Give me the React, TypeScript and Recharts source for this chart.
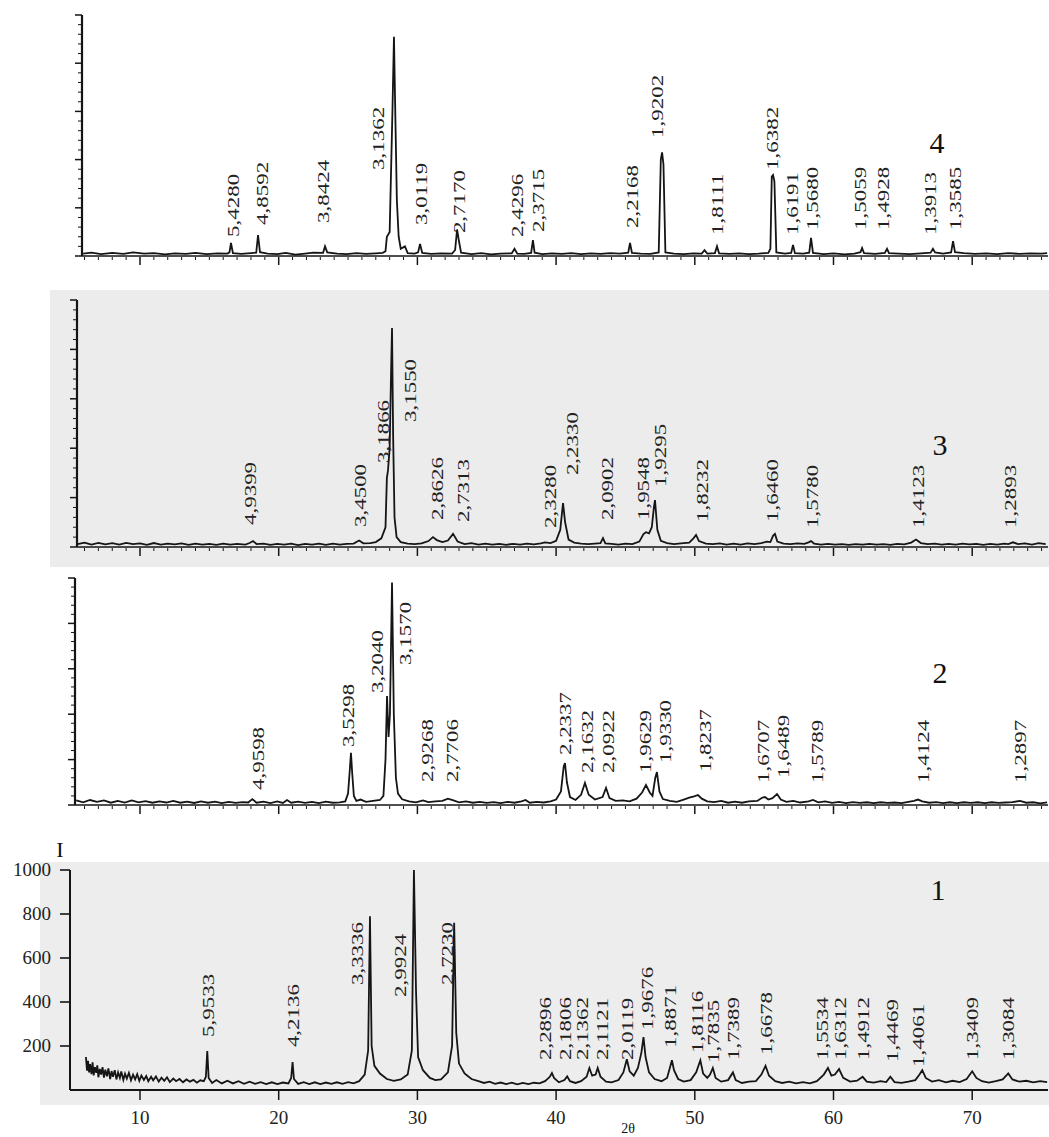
import { ComposedChart, Line, Scatter, XAxis, YAxis } from "recharts";

// 2-theta scale shared by all four patterns: 10 deg at 140px, 13.87 px per degree
const PX10 = 140;
const PX_PER_DEG = 13.87;
const RIGHT_PX = 1048;

// pattern 4 (top), relative intensity 0..100
const pattern4: [number, number][] = [
  [5.9, 1.0], [6.5, 1.4], [7.2, 0.8], [8.0, 1.3], [8.8, 0.9], [9.5, 1.5], [10.3, 1.0], [11.0, 1.2],
  [11.8, 0.7], [12.5, 1.1], [13.3, 0.9], [14.0, 1.3], [14.8, 0.8], [15.6, 1.1], [16.3, 1.0],
  [16.45, 1.5], [16.56, 5.4], [16.7, 1.2], [17.3, 0.9], [18.0, 1.2], [18.38, 1.4], [18.51, 8.7],
  [18.65, 1.6], [19.2, 1.0], [19.9, 0.8], [20.5, 1.3], [21.2, 0.6], [21.9, 1.0], [22.5, 1.4],
  [23.2, 1.3], [23.34, 4.0], [23.5, 1.5], [24.2, 1.0], [24.9, 0.8], [25.6, 1.2], [26.3, 0.9],
  [27.0, 1.1], [27.5, 1.3], [27.7, 2.0], [27.8, 8.0], [28.0, 10], [28.2, 60], [28.31, 91],
  [28.42, 55], [28.52, 23], [28.65, 8], [28.8, 3], [29.1, 4], [29.3, 1.2], [29.8, 1.0],
  [30.05, 1.5], [30.19, 5.0], [30.35, 1.3], [31.0, 0.9], [31.7, 1.1], [32.5, 1.0], [32.72, 2.5],
  [32.86, 11], [33.0, 6], [33.15, 1.4], [33.9, 0.8], [34.6, 1.2], [35.3, 0.7], [36.0, 1.0],
  [36.8, 1.1], [37.0, 3.0], [37.2, 1.0], [37.7, 0.9], [38.2, 1.3], [38.33, 6.6], [38.45, 1.4],
  [39.0, 0.8], [39.7, 1.1], [40.4, 0.9], [41.1, 1.2], [41.8, 0.8], [42.5, 1.1], [43.2, 0.9],
  [43.9, 1.2], [44.6, 1.0], [45.2, 1.4], [45.33, 5.4], [45.47, 1.3], [46.1, 1.0], [46.8, 0.9],
  [47.4, 1.5], [47.55, 40], [47.64, 43], [47.74, 38], [47.88, 1.5], [48.5, 1.0], [49.2, 0.8],
  [49.9, 1.1], [50.5, 1.0], [50.7, 2.4], [50.9, 1.0], [51.45, 1.2], [51.6, 4.0], [51.75, 1.1],
  [52.5, 0.9], [53.2, 1.1], [53.9, 0.8], [54.6, 1.0], [55.3, 1.3], [55.45, 3], [55.55, 33],
  [55.64, 33.6], [55.74, 31], [55.88, 1.5], [56.5, 1.0], [56.95, 1.3], [57.08, 4.6], [57.22, 1.2],
  [57.8, 1.0], [58.25, 1.4], [58.38, 7.5], [58.52, 1.3], [59.3, 0.8], [60.0, 1.1], [60.8, 0.7],
  [61.5, 1.0], [61.95, 1.6], [62.06, 3.3], [62.2, 1.2], [63.0, 0.9], [63.7, 1.3], [63.86, 3.0],
  [64.0, 1.2], [64.7, 1.0], [65.5, 0.8], [66.3, 1.1], [67.0, 1.4], [67.17, 3.0], [67.32, 1.5],
  [67.9, 1.0], [68.48, 1.5], [68.62, 6.2], [68.76, 1.6], [69.4, 1.2], [70.2, 0.9], [71.0, 1.1],
  [71.8, 0.8], [72.6, 1.2], [73.4, 0.9], [74.2, 1.1], [75.0, 1.0], [75.4, 1.2],
];

const labels4: [number, number, string][] = [
  [16.7, 7.9, "5,4280"], [18.8, 12.9, "4,8592"], [23.2, 13.7, "3,8424"], [27.16, 35.7, "3,1362"],
  [30.26, 12.9, "3,0119"], [33.0, 9.5, "2,7170"], [37.2, 7.9, "2,4296"], [38.7, 10, "2,3715"],
  [45.47, 11.6, "2,2168"], [47.27, 49, "1,9202"], [51.6, 8.7, "1,8111"], [55.57, 35.7, "1,6382"],
  [57.0, 8.7, "1,6191"], [58.45, 10.8, "1,5680"], [61.9, 10.8, "1,5059"], [63.57, 10.8, "1,4928"],
  [66.96, 8.7, "1,3913"], [68.76, 10.8, "1,3585"],
];

// pattern 3
const pattern3: [number, number][] = [
  [5.5, 1.2], [6.0, 1.8], [6.5, 1.0], [7.0, 1.7], [7.5, 1.1], [8.0, 1.6], [8.5, 1.0], [9.0, 1.7],
  [9.5, 1.2], [10.0, 1.5], [10.5, 0.9], [11.0, 1.6], [11.5, 1.0], [12.0, 1.4], [12.5, 1.1],
  [13.0, 1.5], [13.5, 0.9], [14.0, 1.4], [14.5, 1.0], [15.0, 1.3], [15.5, 0.9], [16.0, 1.4],
  [16.5, 1.0], [17.0, 1.3], [17.6, 1.0], [17.9, 1.6], [18.15, 2.4], [18.4, 1.2], [18.9, 1.4],
  [19.4, 0.9], [19.9, 1.3], [20.4, 1.0], [20.9, 1.4], [21.4, 0.8], [21.9, 1.3], [22.4, 1.0],
  [22.9, 1.4], [23.4, 0.9], [23.9, 1.4], [24.4, 1.0], [24.9, 1.3], [25.4, 1.4], [25.8, 2.6],
  [26.1, 1.5], [26.6, 1.6], [27.0, 2.0], [27.4, 3.5], [27.7, 8], [27.8, 28], [27.88, 31],
  [28.0, 40], [28.1, 70], [28.17, 88.7], [28.25, 45], [28.35, 12], [28.5, 4], [28.8, 2.0],
  [29.3, 1.4], [29.8, 1.2], [30.3, 1.5], [30.8, 2.4], [31.12, 4], [31.4, 2.8], [31.8, 2.0],
  [32.2, 2.6], [32.57, 5.3], [32.9, 2.2], [33.4, 1.2], [33.9, 1.6], [34.4, 1.0], [34.9, 1.4],
  [35.4, 1.0], [35.9, 1.3], [36.4, 0.9], [36.9, 1.3], [37.4, 1.0], [37.9, 1.4], [38.4, 1.1],
  [38.9, 1.5], [39.2, 1.9], [39.6, 1.6], [40.0, 2.5], [40.3, 7], [40.5, 17.8], [40.65, 10],
  [40.9, 3], [41.3, 1.8], [41.8, 1.4], [42.3, 1.2], [42.8, 1.4], [43.2, 1.6], [43.38, 3.6],
  [43.55, 1.5], [44.0, 1.3], [44.5, 1.0], [45.0, 1.4], [45.5, 1.2], [46.0, 2.2], [46.3, 5.2],
  [46.48, 6], [46.7, 5.5], [46.9, 8], [47.05, 16], [47.13, 19], [47.3, 7], [47.55, 2.5],
  [48.0, 1.6], [48.5, 1.2], [49.0, 1.5], [49.6, 1.8], [49.9, 3.5], [50.09, 4.9], [50.3, 2.4],
  [50.8, 1.4], [51.3, 1.2], [51.8, 1.5], [52.3, 1.0], [52.8, 1.4], [53.3, 1.0], [53.8, 1.5],
  [54.3, 1.2], [54.8, 1.6], [55.2, 2.2], [55.45, 2.0], [55.65, 4.6], [55.78, 5.3], [55.95, 2.2],
  [56.4, 1.4], [56.9, 1.2], [57.4, 1.5], [57.9, 1.3], [58.2, 1.9], [58.38, 2.4], [58.6, 1.4],
  [59.1, 1.0], [59.6, 1.3], [60.1, 1.0], [60.6, 1.2], [61.1, 0.9], [61.6, 1.2], [62.1, 1.0],
  [62.6, 1.3], [63.1, 1.0], [63.6, 1.2], [64.1, 0.9], [64.6, 1.3], [65.1, 1.1], [65.6, 1.8],
  [65.95, 3.0], [66.3, 1.6], [66.8, 1.2], [67.3, 1.4], [67.8, 1.0], [68.3, 1.3], [68.8, 1.0],
  [69.3, 1.4], [69.8, 1.1], [70.3, 1.3], [70.8, 0.9], [71.3, 1.3], [71.8, 1.0], [72.3, 1.4],
  [72.6, 1.2], [72.94, 1.9], [73.3, 1.2], [73.8, 1.5], [74.3, 1.0], [74.8, 1.6], [75.3, 1.2],
];

const labels3: [number, number, string][] = [
  [17.93, 8.9, "4,9399"], [25.86, 8.1, "3,4500"], [27.52, 34, "3,1866"], [29.47, 50.6, "3,1550"],
  [31.41, 10.9, "2,8626"], [33.29, 10.1, "2,7313"], [39.56, 7.7, "2,3280"], [41.15, 29.1, "2,2330"],
  [43.67, 10.9, "2,0902"], [46.27, 10.9, "1,9548"], [47.49, 24.3, "1,9295"], [50.52, 10.1, "1,8232"],
  [55.57, 10.1, "1,6460"], [58.45, 7.7, "1,5780"], [66.09, 7.7, "1,4123"], [72.73, 7.7, "1,2893"],
];

// pattern 2
const pattern2: [number, number][] = [
  [5.4, 2.0], [5.9, 1.2], [6.4, 2.2], [6.9, 1.4], [7.4, 2.0], [7.9, 1.0], [8.4, 1.8], [8.9, 1.1],
  [9.4, 2.0], [9.9, 1.2], [10.4, 1.7], [10.9, 1.0], [11.4, 1.6], [11.9, 1.1], [12.4, 1.8],
  [12.9, 1.0], [13.4, 1.5], [13.9, 0.9], [14.4, 1.6], [14.9, 1.0], [15.4, 1.5], [15.9, 0.8],
  [16.4, 1.4], [16.9, 0.9], [17.4, 1.3], [17.8, 1.1], [18.1, 2.6], [18.4, 1.0], [18.9, 1.5],
  [19.4, 0.8], [19.9, 1.6], [20.3, 0.9], [20.6, 2.2], [20.9, 1.0], [21.4, 1.5], [21.9, 0.9],
  [22.4, 1.4], [22.9, 0.8], [23.4, 1.5], [23.9, 1.0], [24.4, 1.2], [24.8, 1.6], [25.0, 5],
  [25.12, 15], [25.21, 23], [25.3, 14], [25.42, 4], [25.6, 1.8], [25.9, 2.4], [26.3, 1.4],
  [26.8, 1.8], [27.3, 2.2], [27.55, 4], [27.7, 20], [27.81, 48], [27.92, 30], [28.02, 40],
  [28.17, 98], [28.3, 40], [28.45, 12], [28.6, 5], [28.9, 2.5], [29.4, 1.6], [29.9, 1.2],
  [30.4, 2.0], [30.8, 1.3], [31.3, 1.6], [31.8, 1.8], [32.2, 2.8], [32.6, 2.0], [33.0, 1.2],
  [33.5, 1.6], [34.0, 1.0], [34.5, 1.4], [35.0, 0.9], [35.5, 1.3], [36.0, 0.8], [36.5, 1.4],
  [37.0, 1.0], [37.5, 1.6], [37.8, 2.2], [38.1, 1.0], [38.6, 1.4], [39.1, 1.1], [39.6, 1.6],
  [40.0, 2.4], [40.35, 6], [40.55, 17], [40.64, 18.5], [40.78, 10], [41.0, 3.5], [41.4, 2.2],
  [41.8, 4.5], [42.08, 9.7], [42.35, 4.5], [42.8, 2.4], [43.35, 3.5], [43.6, 7.5], [43.85, 3.0],
  [44.3, 1.8], [44.8, 2.0], [45.3, 1.6], [45.8, 2.8], [46.2, 5.5], [46.48, 8.8], [46.75, 5.5],
  [46.95, 4], [47.15, 12], [47.27, 14.5], [47.45, 6], [47.7, 2.6], [48.2, 1.8], [48.7, 1.4],
  [49.2, 2.4], [49.6, 3.2], [49.95, 3.8], [50.23, 4.4], [50.5, 2.8], [50.9, 1.6], [51.4, 1.3],
  [51.9, 1.8], [52.4, 1.0], [52.9, 1.5], [53.4, 1.0], [53.9, 1.6], [54.5, 1.8], [54.85, 3.2],
  [55.06, 3.5], [55.3, 2.4], [55.6, 3.0], [55.93, 4.8], [56.2, 2.4], [56.6, 1.4], [57.1, 1.8],
  [57.6, 1.1], [58.2, 1.6], [58.52, 2.2], [58.9, 1.2], [59.4, 1.6], [59.9, 0.9], [60.4, 1.4],
  [60.9, 0.8], [61.4, 1.3], [61.9, 0.9], [62.4, 1.2], [62.9, 0.8], [63.4, 1.2], [63.9, 0.9],
  [64.4, 1.1], [64.9, 0.8], [65.4, 1.4], [65.8, 1.8], [66.09, 2.4], [66.4, 1.6], [66.9, 1.0],
  [67.4, 1.3], [67.9, 0.8], [68.4, 1.2], [68.9, 0.8], [69.4, 1.2], [69.9, 0.9], [70.4, 1.2],
  [70.9, 0.8], [71.4, 1.2], [71.9, 0.9], [72.4, 1.1], [72.9, 1.3], [73.45, 1.8], [73.9, 1.0],
  [74.4, 1.2], [74.9, 0.7], [75.4, 1.2],
];

const labels2: [number, number, string][] = [
  [18.5, 6.6, "4,9598"], [25.0, 25.6, "3,5298"], [27.09, 49.3, "3,2040"], [29.1, 61.7, "3,1570"],
  [30.69, 10.1, "2,9268"], [32.5, 10.1, "2,7706"], [40.64, 22, "2,2337"], [42.23, 14.1, "2,1632"],
  [43.74, 14.1, "2,0922"], [46.41, 14.1, "1,9629"], [47.85, 18.5, "1,9330"], [50.74, 14.5, "1,8237"],
  [54.92, 9.7, "1,6707"], [56.36, 11.9, "1,6489"], [58.81, 9.7, "1,5789"], [66.45, 9.7, "1,4124"],
  [73.45, 9.7, "1,2897"],
];

// pattern 1 (bottom), counts
const pattern1: [number, number][] = [
  [6.1, 150], [6.18, 88], [6.25, 132], [6.33, 80], [6.4, 118], [6.5, 72], [6.58, 126], [6.66, 66],
  [6.75, 104], [6.85, 78], [6.92, 112], [7.0, 58], [7.1, 96], [7.2, 70], [7.3, 104], [7.4, 56],
  [7.5, 92], [7.62, 62], [7.72, 98], [7.85, 50], [7.95, 86], [8.05, 60], [8.18, 90], [8.3, 48],
  [8.42, 80], [8.55, 55], [8.65, 84], [8.8, 46], [8.92, 74], [9.05, 52], [9.2, 78], [9.35, 44],
  [9.5, 70], [9.65, 48], [9.8, 72], [9.95, 42], [10.1, 66], [10.28, 46], [10.45, 64], [10.6, 40],
  [10.8, 60], [10.95, 44], [11.15, 62], [11.35, 38], [11.55, 56], [11.75, 42], [11.95, 58],
  [12.15, 36], [12.4, 52], [12.6, 40], [12.85, 50], [13.1, 35], [13.35, 48], [13.6, 38],
  [13.85, 46], [14.1, 33], [14.35, 44], [14.6, 40], [14.75, 60], [14.85, 177], [14.95, 55],
  [15.2, 32], [15.5, 45], [15.9, 30], [16.3, 42], [16.7, 30], [17.1, 40], [17.5, 28], [17.9, 38],
  [18.3, 28], [18.7, 36], [19.1, 27], [19.5, 35], [19.9, 27], [20.3, 34], [20.7, 30], [20.9, 55],
  [21.0, 127], [21.1, 50], [21.4, 28], [21.8, 36], [22.2, 27], [22.6, 35], [23.0, 27], [23.4, 34],
  [23.8, 28], [24.2, 35], [24.6, 28], [25.0, 36], [25.4, 30], [25.8, 40], [26.2, 70], [26.45, 180],
  [26.58, 790], [26.7, 200], [26.9, 110], [27.3, 75], [27.8, 50], [28.3, 42], [28.8, 48],
  [29.3, 70], [29.6, 180], [29.75, 1000], [29.9, 450], [30.05, 150], [30.4, 90], [30.9, 55],
  [31.3, 45], [31.7, 48], [32.2, 80], [32.5, 200], [32.65, 760], [32.8, 260], [33.0, 120],
  [33.4, 75], [33.9, 50], [34.4, 40], [34.8, 32], [35.2, 38], [35.6, 28], [36.0, 34], [36.4, 27],
  [36.8, 33], [37.2, 26], [37.6, 32], [38.0, 27], [38.4, 33], [38.8, 30], [39.2, 40], [39.55, 60],
  [39.7, 77], [39.85, 55], [40.2, 35], [40.6, 45], [40.8, 62], [41.0, 40], [41.4, 32], [41.8, 40],
  [42.2, 60], [42.4, 100], [42.6, 65], [42.85, 70], [43.0, 100], [43.2, 60], [43.6, 38], [44.0, 35],
  [44.5, 45], [44.85, 80], [45.1, 140], [45.3, 85], [45.6, 65], [45.9, 100], [46.15, 170],
  [46.3, 240], [46.45, 150], [46.7, 80], [47.1, 50], [47.6, 40], [48.0, 55], [48.2, 100],
  [48.35, 135], [48.5, 90], [48.8, 50], [49.2, 38], [49.7, 45], [50.1, 80], [50.4, 135], [50.6, 75],
  [50.9, 55], [51.1, 70], [51.3, 100], [51.5, 55], [51.9, 38], [52.4, 45], [52.75, 80], [52.95, 45],
  [53.4, 32], [53.9, 38], [54.4, 40], [54.8, 70], [55.1, 110], [55.35, 65], [55.8, 40], [56.3, 32],
  [56.8, 38], [57.3, 30], [57.8, 36], [58.3, 30], [58.8, 40], [59.3, 70], [59.6, 100], [59.85, 65],
  [60.1, 70], [60.4, 95], [60.7, 55], [61.2, 38], [61.7, 42], [62.1, 60], [62.4, 38], [62.9, 34],
  [63.4, 40], [63.8, 36], [64.1, 60], [64.4, 36], [64.9, 32], [65.4, 38], [65.9, 45], [66.2, 70],
  [66.4, 90], [66.65, 55], [67.1, 38], [67.6, 45], [68.1, 35], [68.6, 42], [69.1, 36], [69.6, 50],
  [70.0, 85], [70.3, 55], [70.7, 40], [71.2, 34], [71.7, 40], [72.2, 48], [72.6, 75], [72.9, 48],
  [73.4, 38], [73.9, 42], [74.4, 35], [74.9, 40], [75.4, 36],
];

const labels1: [number, number, string][] = [
  [14.9, 241, "5,9533"], [21.03, 195, "4,2136"], [25.65, 477, "3,3336"], [28.75, 423, "2,9924"],
  [32.13, 477, "2,7230"], [39.2, 136, "2,2896"], [40.64, 136, "2,1806"], [41.87, 136, "2,1362"],
  [43.31, 136, "2,1121"], [45.11, 136, "2,0119"], [46.55, 273, "1,9676"], [48.21, 191, "1,8871"],
  [50.16, 168, "1,8116"], [51.31, 123, "1,7835"], [52.75, 136, "1,7389"], [55.13, 159, "1,6678"],
  [59.17, 136, "1,5534"], [60.47, 136, "1,6312"], [62.13, 136, "1,4912"], [64.22, 127, "1,4469"],
  [66.09, 105, "1,4061"], [69.99, 136, "1,3409"], [72.58, 136, "1,3084"],
];

const majorTicks = [10, 20, 30, 40, 50, 60, 70];
const yTicks1 = [200, 400, 600, 800, 1000];
const degTicks = Array.from({ length: 70 }, (_, i) => i + 6);
const relTicks = Array.from({ length: 26 }, (_, i) => i * 4);

const FONT = "Liberation Serif";
const INK = "#151515";

const toPoints = (rows: [number, number][]) => rows.map(([x, y]) => ({ x, y }));
const toLabels = (rows: [number, number, string][]) => rows.map(([x, y, t]) => ({ x, y, t }));

const PeakLabel = (props: any) => {
  const { cx, cy, payload } = props;
  if (cx == null || cy == null) return <g />;
  return (
    <text
      transform={`translate(${cx},${cy}) rotate(-90) scale(1.35,1)`}
      dy="0.34em"
      fontFamily={FONT}
      fontSize={17}
      fill="#222"
    >
      {payload.t}
    </text>
  );
};

type PanelProps = {
  top: number;
  height: number;
  plotTop: number;
  plotBottom: number;
  left: number;
  yMax: number;
  series: [number, number][];
  labels: [number, number, string][];
  counts?: boolean;
};

const Panel = ({ top, height, plotTop, plotBottom, left, yMax, series, labels, counts }: PanelProps) => {
  const xMin = 10 + (left - PX10) / PX_PER_DEG;
  const xMax = 10 + (RIGHT_PX - PX10) / PX_PER_DEG;
  const baseY = plotBottom - top;

  const minorXTick = (p: any) => {
    const v = p.payload.value;
    const major = v % 10 === 0;
    return <line x1={p.x} x2={p.x} y1={baseY + 1} y2={baseY + (major ? 9 : 4)} stroke={INK} strokeWidth={major ? 1.5 : 1} />;
  };
  const minorYTick = (p: any) => {
    const v = p.payload.value;
    const major = v % 20 === 0;
    return <line x1={left - (major ? 7 : 4)} x2={left} y1={p.y} y2={p.y} stroke={INK} strokeWidth={major ? 1.5 : 1} />;
  };
  const labelXTick = (p: any) => (
    <g>
      <line x1={p.x} x2={p.x} y1={baseY} y2={baseY + 10} stroke={INK} strokeWidth={1.5} />
      <text x={p.x} y={baseY + 34} textAnchor="middle" fontFamily={FONT} fontSize={19} fill="#222">
        {p.payload.value}
      </text>
    </g>
  );
  const labelYTick = (p: any) => (
    <g>
      <line x1={left - 10} x2={left} y1={p.y} y2={p.y} stroke={INK} strokeWidth={1.6} />
      <text x={left - 19} y={p.y} dy="0.34em" textAnchor="end" fontFamily={FONT} fontSize={19} fill="#222">
        {p.payload.value}
      </text>
    </g>
  );

  return (
    <div style={{ position: "absolute", left: 0, top }}>
      <ComposedChart
        width={1049}
        height={height}
        margin={{ top: plotTop - top, bottom: top + height - plotBottom - 1, left: left - 1, right: 1049 - RIGHT_PX }}
      >
        <XAxis
          type="number"
          dataKey="x"
          domain={[xMin, xMax]}
          allowDataOverflow
          ticks={counts ? majorTicks : degTicks}
          interval={0}
          height={1}
          tickLine={false}
          axisLine={{ stroke: INK, strokeWidth: counts ? 1.8 : 1.6 }}
          tick={counts ? labelXTick : minorXTick}
        />
        <YAxis
          type="number"
          domain={[0, yMax]}
          allowDataOverflow
          ticks={counts ? yTicks1 : relTicks}
          interval={0}
          width={1}
          tickLine={false}
          axisLine={{ stroke: INK, strokeWidth: counts ? 2 : 2.2 }}
          tick={counts ? labelYTick : minorYTick}
        />
        <Line
          data={toPoints(series)}
          dataKey="y"
          type="linear"
          stroke={INK}
          strokeWidth={1.8}
          dot={false}
          activeDot={false}
          isAnimationActive={false}
        />
        <Scatter data={toLabels(labels)} dataKey="y" shape={PeakLabel} isAnimationActive={false} />
      </ComposedChart>
    </div>
  );
};

const tag = (text: string, left: number, top: number, size: number) => (
  <div
    style={{
      position: "absolute",
      left,
      top,
      fontFamily: FONT,
      fontSize: size,
      lineHeight: 1,
      color: "#111",
      transform: "translate(-50%, -50%)",
    }}
  >
    {text}
  </div>
);

export default function App() {
  return (
    <div style={{ position: "fixed", left: 0, top: 0, width: 1049, height: 1137, overflow: "hidden", background: "#fff" }}>
      <div style={{ position: "absolute", left: 50, top: 290, width: 999, height: 277, background: "#ececec" }} />
      <div style={{ position: "absolute", left: 40, top: 862, width: 1009, height: 243, background: "#ededed" }} />
      <Panel top={0} height={290} plotTop={15} plotBottom={256} left={82} yMax={100} series={pattern4} labels={labels4} />
      <Panel top={290} height={277} plotTop={300} plotBottom={547} left={77} yMax={100} series={pattern3} labels={labels3} />
      <Panel top={570} height={255} plotTop={578} plotBottom={805} left={75} yMax={100} series={pattern2} labels={labels2} />
      <Panel top={830} height={307} plotTop={870} plotBottom={1090} left={70} yMax={1000} series={pattern1} labels={labels1} counts />
      {tag("4", 937, 143, 30)}
      {tag("3", 940, 445, 30)}
      {tag("2", 940, 673, 30)}
      {tag("1", 938, 890, 30)}
      {tag("I", 60, 850, 22)}
      {tag("2θ", 628, 1129, 14)}
    </div>
  );
}
